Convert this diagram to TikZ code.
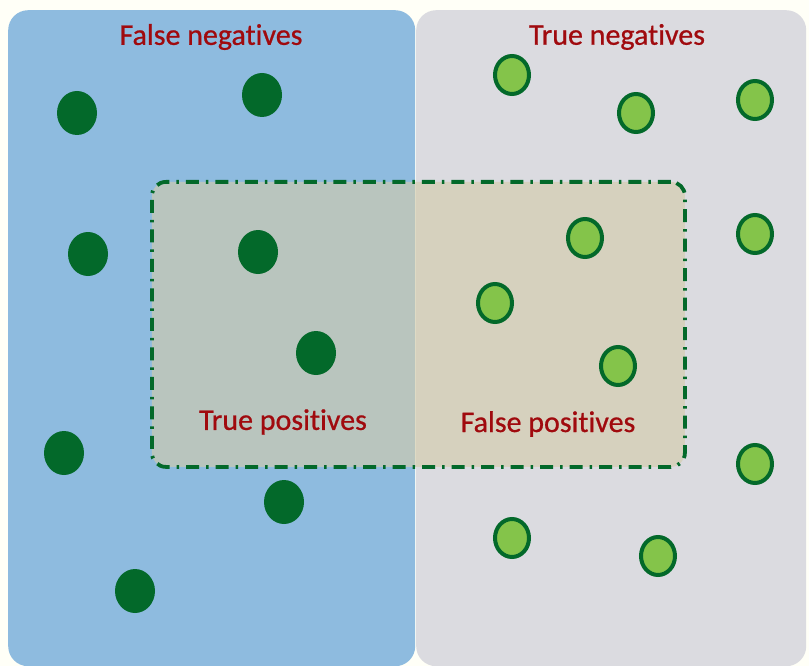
\documentclass[tikz,border=0pt]{standalone}
\usepackage{fontspec}
\usepackage{tikz}
\usetikzlibrary{positioning,shapes.geometric}
\setmainfont{Carlito}[Ligatures=NoCommon]
\newfontfamily\lblfont{Carlito}[Ligatures=NoCommon, FakeBold=0.7]
\definecolor{negblue}{HTML}{8EBBDF}
\definecolor{posgray}{HTML}{DBDBE0}
\definecolor{selfill}{HTML}{D4CCAA}
\definecolor{dotdark}{HTML}{03692A}
\definecolor{dotlight}{HTML}{84C44A}
\definecolor{lblred}{HTML}{A00A0E}
\tikzset{
  region/.style={rounded corners=20pt, inner sep=0pt, anchor=north west, fill=#1},
  actual/.style={ellipse, fill=dotdark, inner sep=0pt, minimum width=40pt, minimum height=44pt},
  predicted/.style={ellipse, draw=dotdark, line width=4pt, fill=dotlight, inner sep=0pt, minimum width=34pt, minimum height=38pt},
  lbl/.style={text=lblred, font=\lblfont\fontsize{30}{34}\selectfont, inner sep=0pt},
}

\begin{document}
\begin{tikzpicture}[x=1pt, y=-1pt]
  \fill[white!97!yellow] (0,0) rectangle (809,666);
  \useasboundingbox (0,0) rectangle (809,666);
  % the two halves
  \node[region=negblue, minimum width=407pt, minimum height=656pt] (left) at (8,10) {};
  \node[region=posgray, minimum width=390pt, minimum height=656pt] (right) at (416,10) {};
  % selected items
  \node[draw=dotdark, line width=3.8pt, rounded corners=14pt, fill=selfill, fill opacity=0.62,
    dash pattern=on 13pt off 7pt on 2.5pt off 7pt, minimum width=533pt, minimum height=285pt,
    anchor=north west, inner sep=0pt] (sel) at (150,180) {};
  % relevant items
  \node[actual] (a1) at (77,113) {};
  \node[actual] (a2) at (262,95) {};
  \node[actual] (a3) at (88,254) {};
  \node[actual] (a4) at (258,252) {};
  \node[actual] (a5) at (316,353) {};
  \node[actual] (a6) at (64,453) {};
  \node[actual] (a7) at (284,502) {};
  \node[actual] (a8) at (135,591) {};
  % other items
  \node[predicted] (p1) at (512,75) {};
  \node[predicted] (p2) at (636,113) {};
  \node[predicted] (p3) at (755,100) {};
  \node[predicted] (p4) at (585,238) {};
  \node[predicted] (p5) at (755,234) {};
  \node[predicted] (p6) at (495,303) {};
  \node[predicted] (p7) at (618,366) {};
  \node[predicted] (p8) at (755,464) {};
  \node[predicted] (p9) at (512,538) {};
  \node[predicted] (p10) at (658,556) {};
  % labels
  \node[lbl] (fn) at (211,37) {False negatives};
  \node[lbl] (tn) at (617,37) {True negatives};
  \node[lbl] (tp) at (283,422) {True positives};
  \node[lbl] (fp) at (548,424) {False positives};
\end{tikzpicture}
\end{document}
